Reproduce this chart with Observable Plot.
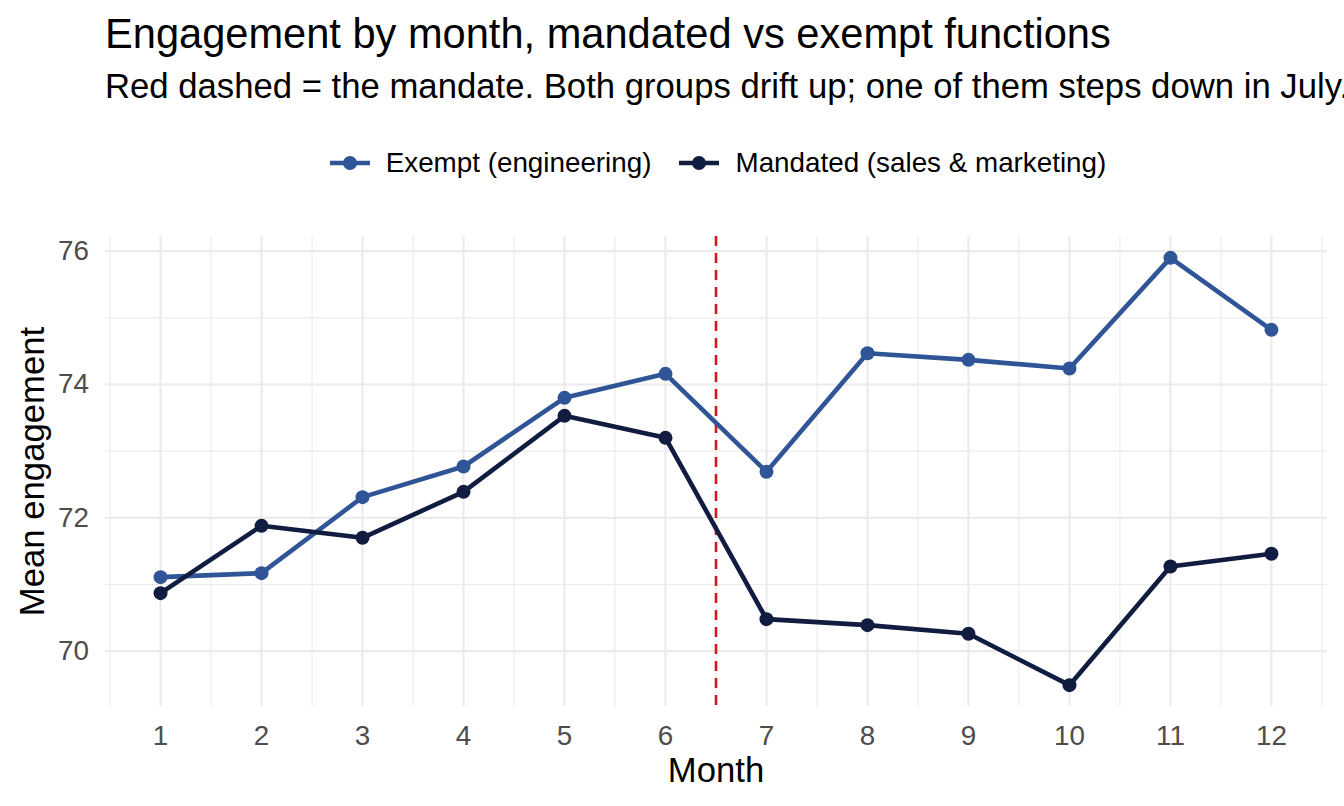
<!DOCTYPE html>
<html>
<head>
<meta charset="utf-8">
<script src="https://cdn.jsdelivr.net/npm/d3@7"></script>
<script src="https://cdn.jsdelivr.net/npm/@observablehq/plot@0.6"></script>
<style>
  html, body { margin: 0; padding: 0; background: #fff; overflow: hidden; }
  body { width: 1344px; height: 806px; position: relative; font-family: "Liberation Sans", Arial, Helvetica, sans-serif; }
  #title { position: absolute; left: 105px; top: 13px; font-size: 41.6px; line-height: 41.6px; color: #000; white-space: nowrap; }
  #subtitle { position: absolute; left: 105px; top: 69px; font-size: 34.7px; line-height: 34.7px; color: #000; white-space: nowrap; }
  #legend { position: absolute; left: 0; width: 1436px; top: 148px; height: 30px; display: flex; justify-content: center; align-items: center; font-size: 27.8px; line-height: 30px; color: #000; white-space: nowrap; }
  .item { display: flex; align-items: center; margin: 0 14px; }
  .item svg { margin-right: 16px; }
  #chart { position: absolute; left: 0; top: 200px; }
</style>
</head>
<body>
<div id="title">Engagement by month, mandated vs exempt functions</div>
<div id="subtitle">Red dashed = the mandate. Both groups drift up; one of them steps down in July.</div>
<div id="legend"></div>
<div id="chart"></div>
<script>
// ---- data ----
const months = [1, 2, 3, 4, 5, 6, 7, 8, 9, 10, 11, 12];
const exempt = [71.11, 71.17, 72.31, 72.77, 73.80, 74.16, 72.69, 74.47, 74.37, 74.24, 75.90, 74.82];
const mandated = [70.87, 71.88, 71.70, 72.39, 73.53, 73.20, 70.48, 70.39, 70.26, 69.49, 71.27, 71.46];
const groups = ["Exempt (engineering)", "Mandated (sales & marketing)"];
const colors = ["#2F5597", "#101C40"];
const mandateMonth = 6.5;
const yTicks = [70, 72, 74, 76];
const yMinor = [71, 73, 75];
const xMinor = [0.5, 1.5, 2.5, 3.5, 4.5, 5.5, 6.5, 7.5, 8.5, 9.5, 10.5, 11.5, 12.5];

const rows = [];
months.forEach((m, i) => {
  rows.push({month: m, value: exempt[i], group: groups[0]});
  rows.push({month: m, value: mandated[i], group: groups[1]});
});

// ggplot-like 5% expansion
const expand = (lo, hi) => { const d = (hi - lo) * 0.05; return [lo - d, hi + d]; };
const allVals = exempt.concat(mandated);
const xDomain = expand(d3.min(months), d3.max(months));
const yDomain = expand(d3.min(allVals), d3.max(allVals));

// ---- legend ----
const legend = document.getElementById("legend");
groups.forEach((g, i) => {
  const item = document.createElement("div");
  item.className = "item";
  item.innerHTML = `<svg width="40" height="20"><line x1="0" y1="10" x2="40" y2="10" stroke="${colors[i]}" stroke-width="4.6"/><circle cx="20" cy="10" r="7" fill="${colors[i]}"/></svg><span></span>`;
  item.querySelector("span").textContent = g;
  legend.appendChild(item);
});

// ---- chart ----
const chart = Plot.plot({
  width: 1344,
  height: 606,
  marginTop: 36,
  marginBottom: 100,
  marginLeft: 104.5,
  marginRight: 17.5,
  style: {fontFamily: '"Liberation Sans", Arial, Helvetica, sans-serif', background: "#fff"},
  x: {domain: xDomain, axis: null},
  y: {domain: yDomain, axis: null},
  color: {domain: groups, range: colors},
  marks: [
    Plot.ruleX(xMinor, {stroke: "#EBEBEB", strokeWidth: 1.1}),
    Plot.ruleY(yMinor, {stroke: "#EBEBEB", strokeWidth: 1.1}),
    Plot.ruleX(months, {stroke: "#EBEBEB", strokeWidth: 2.2}),
    Plot.ruleY(yTicks, {stroke: "#EBEBEB", strokeWidth: 2.2}),
    Plot.axisX({ticks: months, tickSize: 0, tickPadding: 19, fontSize: 27.8, color: "#4D4D4D", label: null, tickFormat: d => String(d)}),
    Plot.axisY({ticks: yTicks, tickSize: 0, tickPadding: 16, fontSize: 27.8, color: "#4D4D4D", label: null, tickFormat: d => String(d)}),
    Plot.ruleX([mandateMonth], {stroke: "#D7191C", strokeWidth: 2.6, strokeDasharray: "10,7"}),
    Plot.line(rows, {x: "month", y: "value", z: "group", stroke: "group", strokeWidth: 4.6}),
    Plot.dot(rows, {x: "month", y: "value", fill: "group", r: 7}),
    Plot.text(["Month"], {frameAnchor: "bottom", lineAnchor: "middle", dy: 64, fontSize: 34.7, fill: "#000"}),
    Plot.text(["Mean engagement"], {frameAnchor: "left", textAnchor: "middle", lineAnchor: "middle", dx: -72, rotate: -90, fontSize: 34.7, fill: "#000"})
  ]
});
document.getElementById("chart").appendChild(chart);
</script>
</body>
</html>
